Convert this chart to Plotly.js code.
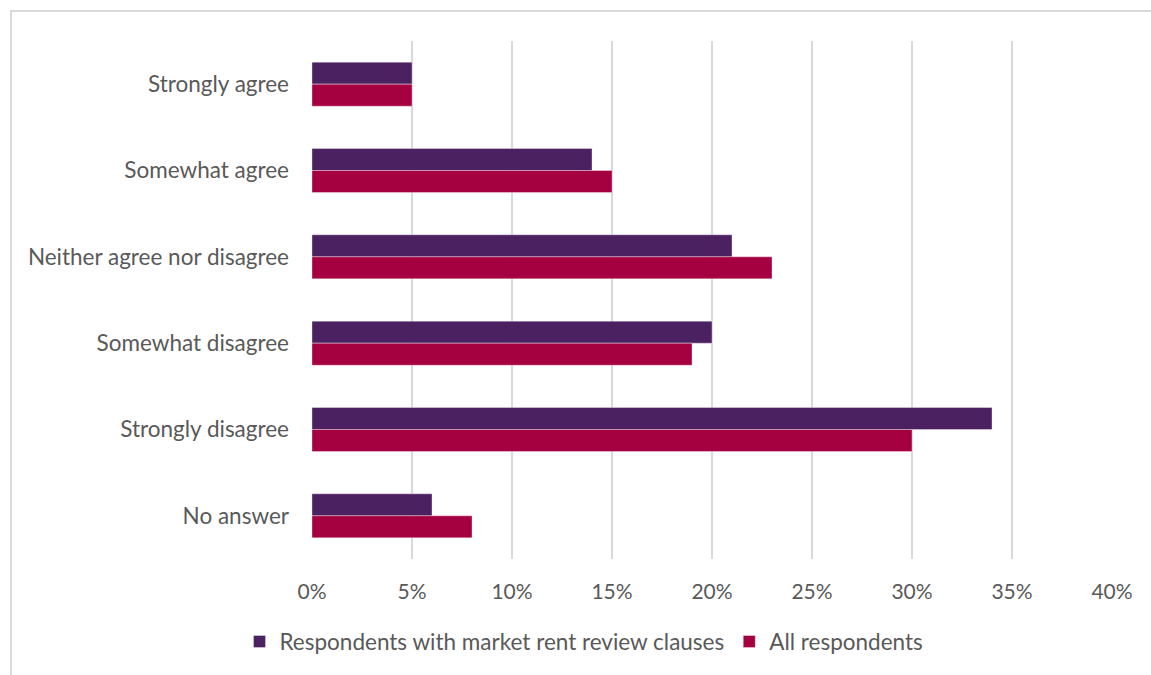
<!DOCTYPE html>
<html>
<head>
<meta charset="utf-8">
<script src="https://cdn.plot.ly/plotly-3.0.1.min.js"></script>
<style>
html,body{margin:0;padding:0;background:#fff;}
#wrap{position:relative;width:1151px;height:675px;}
#frame{position:absolute;left:10px;top:10px;width:1141px;height:665px;border-top:2px solid #d9d9d9;border-left:2px solid #d9d9d9;box-sizing:border-box;pointer-events:none;}
#chart{position:absolute;left:0;top:0;width:1151px;height:675px;}
</style>
</head>
<body>
<div id="wrap">
<div id="chart"></div>
<div id="frame"></div>
</div>
<script>
const categories = ["Strongly agree","Somewhat agree","Neither agree nor disagree","Somewhat disagree","Strongly disagree","No answer"];
const seriesNames = ["Respondents with market rent review clauses","All respondents"];
const marketRentValues = [0.05,0.14,0.21,0.20,0.34,0.06];
const allRespondentsValues = [0.05,0.15,0.23,0.19,0.30,0.08];
const tickValues = [0,0.05,0.10,0.15,0.20,0.25,0.30,0.35,0.40];
const tickLabels = ["0%","5%","10%","15%","20%","25%","30%","35%","40%"];

const fontFam = "Lato, 'Open Sans', sans-serif";
const traces = [
  {type:'bar', orientation:'h', name:seriesNames[0], y:categories, x:marketRentValues,
   marker:{color:'#4B2162', line:{color:'rgba(255,255,255,0.35)', width:1}}, hoverinfo:'skip'},
  {type:'bar', orientation:'h', name:seriesNames[1], y:categories, x:allRespondentsValues,
   marker:{color:'#A50040', line:{color:'rgba(255,255,255,0.35)', width:1}}, hoverinfo:'skip'}
];
const layout = {
  width:1151, height:675,
  margin:{l:312, r:39, t:41, b:114, pad:0},
  paper_bgcolor:'#ffffff', plot_bgcolor:'#ffffff',
  barmode:'group', bargap:0.49, bargroupgap:0,
  font:{family:fontFam, color:'#595959', size:22},
  showlegend:true,
  legend:{orientation:'h', x:0.34, xanchor:'center', y:-0.16, yanchor:'middle',
          font:{family:fontFam, size:22.5, color:'#595959'}, traceorder:'normal', itemwidth:30},
  xaxis:{range:[0,0.40], tickvals:tickValues, ticktext:tickLabels, showgrid:true,
         gridcolor:'#d9d9d9', gridwidth:2, zeroline:false, showline:false, ticks:'',
         ticklabelstandoff:18, tickfont:{family:fontFam, size:21, color:'#595959'}, fixedrange:true},
  yaxis:{autorange:'reversed', showgrid:false, zeroline:false, showline:false, ticks:'',
         ticklabelstandoff:22, tickfont:{family:fontFam, size:22.5, color:'#595959'}, fixedrange:true}
};
Plotly.newPlot('chart', traces, layout, {displayModeBar:false, staticPlot:true});
</script>
</body>
</html>
